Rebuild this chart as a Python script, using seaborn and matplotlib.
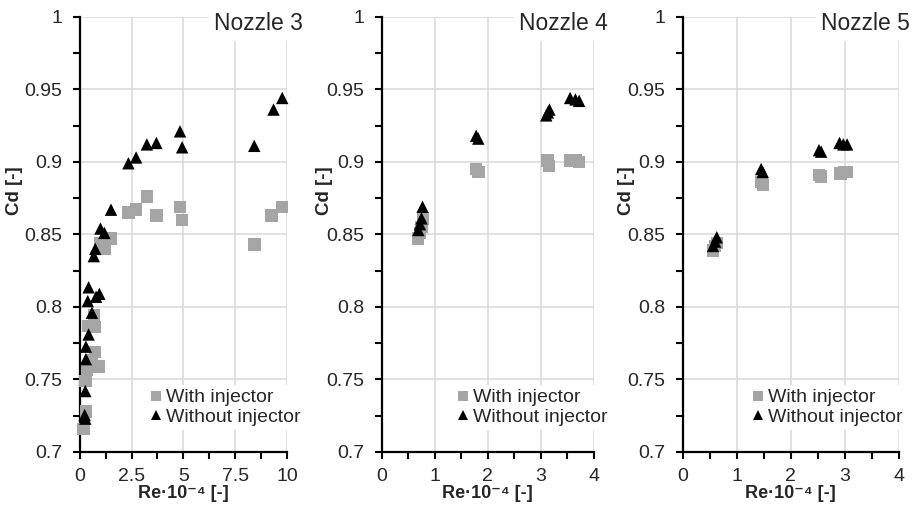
import numpy as np
import pandas as pd
import matplotlib
matplotlib.use("Agg")
import matplotlib.pyplot as plt
import seaborn as sns
from matplotlib.ticker import MultipleLocator, FuncFormatter

# ---------------- data ----------------
n3_with_re = [0.19, 0.30, 0.27, 0.35, 0.92, 0.59, 0.75, 0.43, 0.75, 0.68, 0.99, 1.19, 1.48,
              2.35, 2.72, 3.25, 3.70, 4.85, 4.94, 8.44, 9.26, 9.77]
n3_with_cd = [0.716, 0.728, 0.749, 0.757, 0.759, 0.763, 0.769, 0.787, 0.786, 0.794, 0.844, 0.840, 0.847,
              0.865, 0.867, 0.876, 0.863, 0.869, 0.860, 0.843, 0.863, 0.869]
n3_without_re = [0.24, 0.27, 0.27, 0.30, 0.30, 0.43, 0.59, 0.39, 0.43, 0.79, 0.95, 0.68, 0.75,
                 1.00, 1.19, 1.51, 2.35, 2.72, 3.24, 3.70, 4.84, 4.94, 8.42, 9.35, 9.77]
n3_without_cd = [0.7255, 0.723, 0.742, 0.764, 0.7726, 0.781, 0.796, 0.804, 0.8135, 0.807, 0.809, 0.835, 0.840,
                 0.854, 0.851, 0.867, 0.899, 0.903, 0.912, 0.913, 0.921, 0.910, 0.911, 0.936, 0.944]

n4_with_re = [0.68, 0.72, 0.75, 0.78, 1.78, 1.82, 3.12, 3.15, 3.55, 3.65, 3.72]
n4_with_cd = [0.847, 0.851, 0.855, 0.861, 0.895, 0.893, 0.901, 0.897, 0.901, 0.901, 0.900]
n4_without_re = [0.69, 0.72, 0.75, 0.77, 1.78, 1.82, 3.10, 3.13, 3.16, 3.55, 3.65, 3.72]
n4_without_cd = [0.853, 0.857, 0.861, 0.869, 0.918, 0.916, 0.932, 0.934, 0.936, 0.944, 0.943, 0.942]

n5_with_re = [0.56, 0.60, 0.63, 1.46, 1.48, 2.52, 2.56, 2.92, 2.98, 3.04]
n5_with_cd = [0.839, 0.842, 0.844, 0.886, 0.884, 0.891, 0.890, 0.892, 0.893, 0.893]
n5_without_re = [0.56, 0.60, 0.63, 1.45, 1.48, 2.52, 2.56, 2.90, 2.97, 3.04]
n5_without_cd = [0.842, 0.845, 0.848, 0.895, 0.893, 0.908, 0.907, 0.913, 0.912, 0.912]

series_names = ["With injector", "Without injector"]
nozzle_titles = ["Nozzle 3", "Nozzle 4", "Nozzle 5"]
x_limits = [10, 4, 4]
x_major = [2.5, 1, 1]
x_label = "Re\u00b710\u207b\u2074 [-]"
y_label = "Cd [-]"

rows = []
for title, wr, wc, nr, nc in [
    (nozzle_titles[0], n3_with_re, n3_with_cd, n3_without_re, n3_without_cd),
    (nozzle_titles[1], n4_with_re, n4_with_cd, n4_without_re, n4_without_cd),
    (nozzle_titles[2], n5_with_re, n5_with_cd, n5_without_re, n5_without_cd),
]:
    for r, c in zip(wr, wc):
        rows.append((title, series_names[0], r, c))
    for r, c in zip(nr, nc):
        rows.append((title, series_names[1], r, c))
df = pd.DataFrame(rows, columns=["Nozzle", "Series", "Re", "Cd"])

# ---------------- style ----------------
sns.set_style("white")
plt.rcParams["font.family"] = ["Liberation Sans", "DejaVu Sans"]

fig = plt.figure(figsize=(9.14, 5.15), dpi=100)
W, H = 914, 515
boxes = [(79.7, 287.0), (381.7, 594.0), (682.7, 899.0)]
top_px, bot_px = 16.7, 452.0
ylab_x = [-0.272, -0.229, -0.222]
leg_right_px = [305, 612, 907]
title_right_px = [303, 608, 910]

palette = {"With injector": "#a5a5a5", "Without injector": "#000000"}
markers = {"With injector": "s", "Without injector": "^"}

for i, (l, r) in enumerate(boxes):
    ax = fig.add_axes([l / W, 1 - bot_px / H, (r - l) / W, (bot_px - top_px) / H])
    sub = df[df["Nozzle"] == nozzle_titles[i]]
    sns.scatterplot(data=sub, x="Re", y="Cd", hue="Series", style="Series",
                    hue_order=series_names, style_order=series_names,
                    palette=palette, markers=markers, s=80, linewidth=0,
                    ax=ax, zorder=3, clip_on=False)
    ax.set_xlim(0, x_limits[i])
    ax.set_ylim(0.7, 1.0)
    ax.xaxis.set_major_locator(MultipleLocator(x_major[i]))
    ax.xaxis.set_minor_locator(MultipleLocator(x_major[i] / 2))
    ax.yaxis.set_major_locator(MultipleLocator(0.05))
    ax.yaxis.set_minor_locator(MultipleLocator(0.025))
    fmt = FuncFormatter(lambda v, p: ("%.4g" % v))
    ax.xaxis.set_major_formatter(fmt)
    ax.yaxis.set_major_formatter(fmt)
    ax.grid(True, which="major", color="#d9d9d9", linewidth=1.1)
    ax.set_axisbelow(True)
    for s in ["top", "right"]:
        ax.spines[s].set_visible(False)
    for s in ["left", "bottom"]:
        ax.spines[s].set_color("black")
        ax.spines[s].set_linewidth(1.6)
    ax.tick_params(which="both", direction="out", length=5, width=1.5, color="black",
                   labelsize=14, left=True, bottom=True)
    ax.tick_params(axis="y", which="major", pad=7.5)
    ax.tick_params(axis="x", which="major", pad=6.5)
    ax.set_xlabel(x_label, fontsize=13, fontweight="bold", labelpad=0)
    ax.set_ylabel(y_label, fontsize=13.5, fontweight="bold")
    ax.yaxis.set_label_coords(ylab_x[i], 0.60)

    # title with white background
    tx = (title_right_px[i] - l) / (r - l)
    ax.text(tx, 1.0 - (23.5 - top_px) / (bot_px - top_px), nozzle_titles[i],
            transform=ax.transAxes, ha="right", va="center", fontsize=16.5,
            bbox=dict(facecolor="white", edgecolor="none", pad=4), zorder=5, clip_on=False)

    lx = (leg_right_px[i] - l) / (r - l)
    leg = ax.legend(loc="lower right", bbox_to_anchor=(lx, 0.051), frameon=True,
                    facecolor="white", edgecolor="none", framealpha=1, fontsize=14,
                    handletextpad=0.05, handlelength=1.0, borderpad=0.2, labelspacing=0.1,
                    borderaxespad=0, markerscale=0.8)
    leg.set_zorder(6)

fig.savefig("out.png", dpi=100)
